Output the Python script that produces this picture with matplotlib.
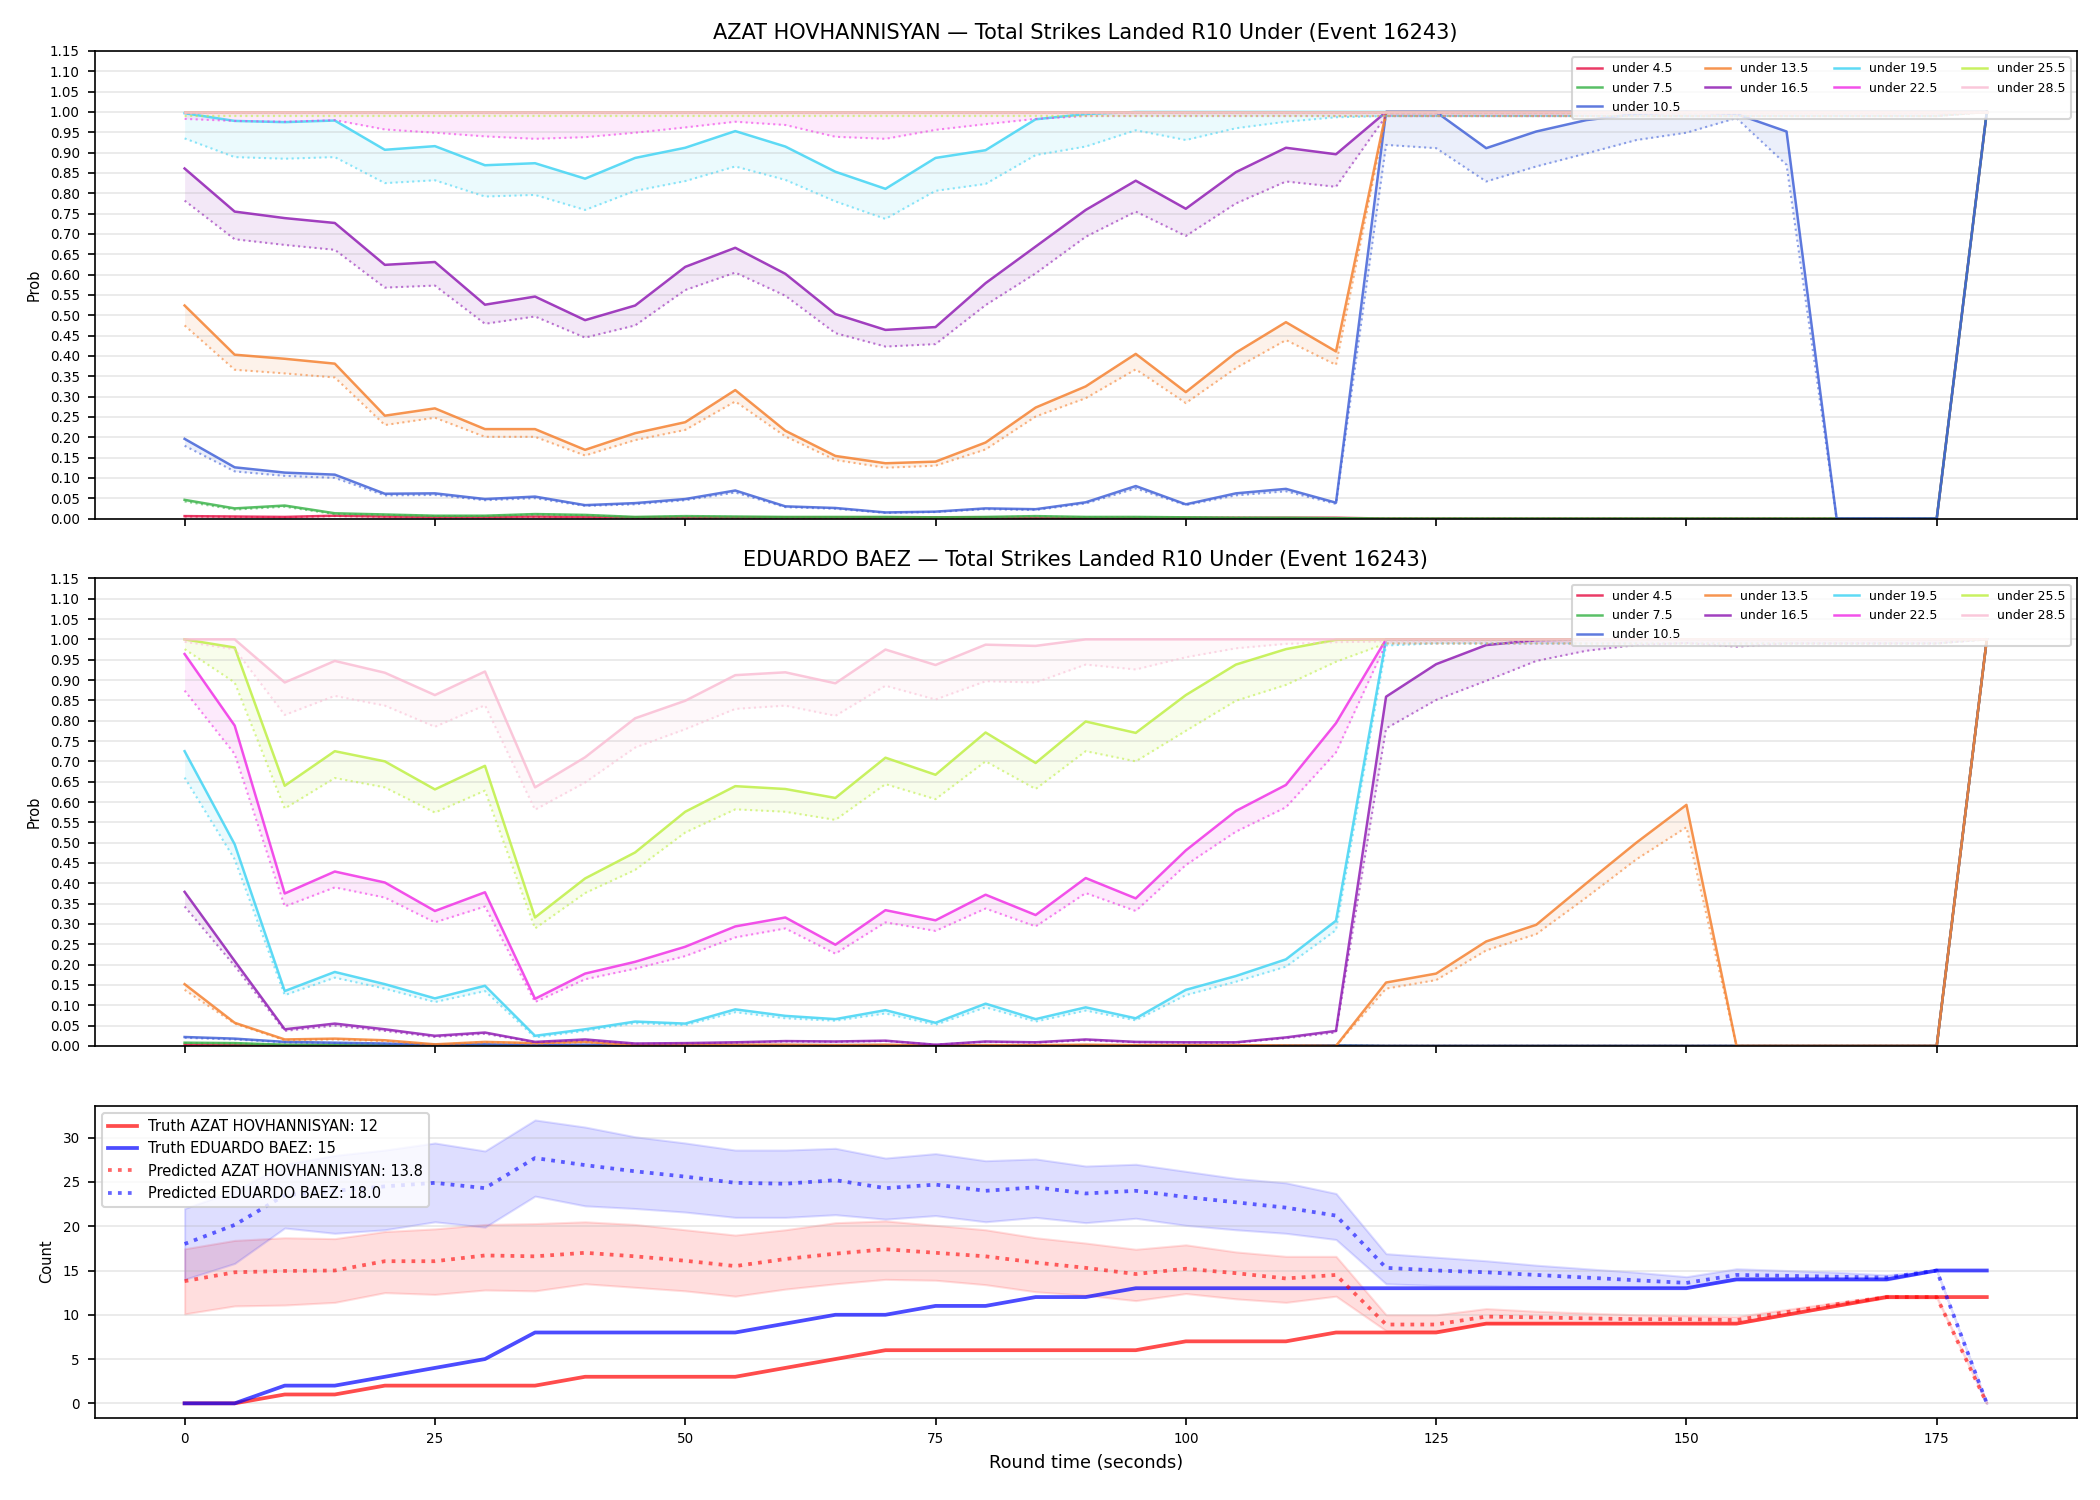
import numpy as np
import matplotlib.pyplot as plt

# round time (seconds), one sample every 5 s
t = list(range(0, 185, 5))

fighters = ["AZAT HOVHANNISYAN", "EDUARDO BAEZ"]
event_id = 16243
thresholds = ["under 4.5", "under 7.5", "under 10.5", "under 13.5", "under 16.5",
              "under 19.5", "under 22.5", "under 25.5", "under 28.5"]
colors = ["#e6194b", "#3cb44b", "#4363d8", "#f58231", "#911eb4",
          "#42d4f4", "#f032e6", "#bfef45", "#fabed4"]

# ---- AZAT HOVHANNISYAN: prob (solid) and lower bound (dotted) ----
a_45 = [0.006, 0.005, 0.004, 0.007, 0.005, 0.004, 0.004, 0.005, 0.004, 0.003, 0.003,
        0.003, 0.003, 0.003, 0.003, 0.003, 0.003, 0.002, 0.002, 0.002, 0.002, 0.002, 0.002, 0.002] + [0.0] * 12 + [1.0]
a_45_lo = [0.005, 0.004, 0.003, 0.006, 0.004, 0.003, 0.003, 0.004, 0.003, 0.002, 0.002,
           0.002, 0.002, 0.002, 0.002, 0.002, 0.002, 0.001, 0.001, 0.001, 0.001, 0.001, 0.001, 0.001] + [0.0] * 12 + [1.0]
a_75 = [0.046, 0.025, 0.032, 0.013, 0.010, 0.007, 0.007, 0.011, 0.009, 0.004, 0.006,
        0.005, 0.004, 0.004, 0.004, 0.003, 0.004, 0.006, 0.004, 0.004, 0.003, 0.002, 0.002, 0.001] + [0.0] * 12 + [1.0]
a_75_lo = [0.042, 0.022, 0.029, 0.011, 0.009, 0.006, 0.006, 0.010, 0.008, 0.003, 0.005,
           0.004, 0.003, 0.003, 0.003, 0.002, 0.003, 0.005, 0.003, 0.003, 0.002, 0.002, 0.001, 0.001] + [0.0] * 12 + [1.0]
a_105 = [0.196, 0.126, 0.113, 0.108, 0.061, 0.062, 0.048, 0.054, 0.033, 0.038, 0.048,
         0.069, 0.030, 0.026, 0.015, 0.017, 0.025, 0.023, 0.040, 0.080, 0.035, 0.062, 0.073, 0.039,
         1.0, 1.0, 0.911, 0.952, 0.980, 0.995, 1.0, 0.995, 0.952, 0.0, 0.0, 0.0, 1.0]
a_105_lo = [0.179, 0.116, 0.105, 0.100, 0.057, 0.058, 0.045, 0.050, 0.031, 0.035, 0.045,
            0.064, 0.028, 0.024, 0.014, 0.016, 0.023, 0.021, 0.037, 0.074, 0.033, 0.057, 0.067, 0.036,
            0.919, 0.911, 0.829, 0.866, 0.898, 0.931, 0.949, 0.985, 0.870, 0.0, 0.0, 0.0, 1.0]
a_135 = [0.524, 0.403, 0.393, 0.381, 0.253, 0.271, 0.220, 0.220, 0.169, 0.210, 0.237,
         0.316, 0.216, 0.154, 0.136, 0.140, 0.187, 0.273, 0.325, 0.405, 0.311, 0.408, 0.483, 0.411] + [1.0] * 13
a_135_lo = [0.475, 0.366, 0.357, 0.347, 0.230, 0.248, 0.201, 0.201, 0.155, 0.193, 0.218,
            0.288, 0.202, 0.144, 0.125, 0.130, 0.170, 0.251, 0.296, 0.367, 0.284, 0.370, 0.439, 0.378] + [0.99] * 12 + [1.0]
a_165 = [0.861, 0.755, 0.739, 0.727, 0.624, 0.631, 0.526, 0.546, 0.488, 0.524, 0.619,
         0.666, 0.602, 0.503, 0.464, 0.471, 0.579, 0.669, 0.759, 0.831, 0.762, 0.852, 0.912, 0.896] + [1.0] * 13
a_165_lo = [0.782, 0.687, 0.673, 0.661, 0.568, 0.573, 0.479, 0.497, 0.445, 0.475, 0.562,
            0.605, 0.548, 0.456, 0.423, 0.429, 0.525, 0.603, 0.693, 0.755, 0.695, 0.775, 0.829, 0.816] + [0.99] * 12 + [1.0]
a_195 = [0.997, 0.978, 0.975, 0.979, 0.907, 0.916, 0.869, 0.874, 0.836, 0.887, 0.912,
         0.953, 0.915, 0.853, 0.811, 0.887, 0.906, 0.982, 0.995, 1.0, 1.0, 1.0, 1.0, 1.0] + [1.0] * 13
a_195_lo = [0.935, 0.889, 0.885, 0.889, 0.825, 0.832, 0.792, 0.796, 0.759, 0.806, 0.830,
            0.866, 0.833, 0.780, 0.737, 0.806, 0.823, 0.894, 0.915, 0.955, 0.931, 0.960, 0.976, 0.987] + [0.99] * 12 + [1.0]
a_225 = [1.0] * 37
a_225_lo = [0.983, 0.978, 0.976, 0.980, 0.957, 0.949, 0.940, 0.934, 0.938, 0.949, 0.962,
            0.976, 0.968, 0.939, 0.934, 0.956, 0.970, 0.983, 0.990, 0.990, 0.990, 0.990, 0.990, 0.990] + [0.99] * 12 + [1.0]
a_255 = [1.0] * 37
a_255_lo = [0.99] * 36 + [1.0]
a_285 = [1.0] * 37
a_285_lo = [0.996] * 36 + [1.0]

# ---- EDUARDO BAEZ ----
e_45 = [0.003, 0.002, 0.002, 0.001, 0.001, 0.001, 0.001, 0.001, 0.001, 0.001, 0.001,
        0.001, 0.001, 0.001, 0.001, 0.001, 0.001, 0.001, 0.001, 0.001, 0.001, 0.001, 0.001, 0.001] + [0.0] * 12 + [1.0]
e_45_lo = [0.002, 0.002, 0.001, 0.001, 0.001, 0.001, 0.001, 0.001, 0.001, 0.001, 0.001,
           0.001, 0.001, 0.001, 0.001, 0.001, 0.001, 0.001, 0.001, 0.001, 0.001, 0.001, 0.001, 0.001] + [0.0] * 12 + [1.0]
e_75 = [0.008, 0.007, 0.003, 0.003, 0.002, 0.001, 0.002, 0.001, 0.001, 0.001, 0.001,
        0.001, 0.001, 0.001, 0.001, 0.001, 0.001, 0.001, 0.001, 0.001, 0.001, 0.001, 0.001, 0.001] + [0.0] * 12 + [1.0]
e_75_lo = [0.007, 0.006, 0.003, 0.002, 0.002, 0.001, 0.001, 0.001, 0.001, 0.001, 0.001,
           0.001, 0.001, 0.001, 0.001, 0.001, 0.001, 0.001, 0.001, 0.001, 0.001, 0.001, 0.001, 0.001] + [0.0] * 12 + [1.0]
e_105 = [0.022, 0.018, 0.010, 0.008, 0.006, 0.003, 0.004, 0.002, 0.003, 0.002, 0.002,
         0.002, 0.002, 0.002, 0.002, 0.001, 0.002, 0.001, 0.002, 0.001, 0.001, 0.001, 0.001, 0.001] + [0.0] * 12 + [1.0]
e_105_lo = [0.020, 0.016, 0.009, 0.007, 0.005, 0.003, 0.003, 0.002, 0.002, 0.002, 0.002,
            0.002, 0.002, 0.002, 0.002, 0.001, 0.002, 0.001, 0.002, 0.001, 0.001, 0.001, 0.001, 0.001] + [0.0] * 12 + [1.0]
e_135 = [0.152, 0.057, 0.016, 0.018, 0.014, 0.004, 0.010, 0.007, 0.010, 0.002, 0.003,
         0.003, 0.003, 0.002, 0.003, 0.001, 0.002, 0.002, 0.003, 0.002, 0.002, 0.002, 0.001, 0.0,
         0.156, 0.178, 0.257, 0.298, 0.400, 0.500, 0.593, 0.0, 0.0, 0.0, 0.0, 0.0, 1.0]
e_135_lo = [0.138, 0.055, 0.014, 0.016, 0.012, 0.003, 0.009, 0.006, 0.009, 0.002, 0.002,
            0.002, 0.002, 0.002, 0.002, 0.001, 0.002, 0.002, 0.002, 0.002, 0.002, 0.002, 0.001, 0.0,
            0.141, 0.162, 0.235, 0.275, 0.365, 0.459, 0.538, 0.0, 0.0, 0.0, 0.0, 0.0, 1.0]
e_165 = [0.379, 0.209, 0.041, 0.055, 0.041, 0.025, 0.033, 0.010, 0.016, 0.006, 0.007,
         0.009, 0.012, 0.011, 0.013, 0.003, 0.011, 0.009, 0.016, 0.010, 0.009, 0.009, 0.021, 0.037,
         0.859, 0.939, 0.986, 0.998, 1.0, 1.0, 1.0, 1.0, 1.0, 1.0, 1.0, 1.0, 1.0]
e_165_lo = [0.343, 0.197, 0.037, 0.050, 0.037, 0.022, 0.030, 0.009, 0.014, 0.005, 0.006,
            0.008, 0.011, 0.010, 0.012, 0.003, 0.010, 0.008, 0.014, 0.009, 0.008, 0.008, 0.019, 0.033,
            0.781, 0.851, 0.898, 0.947, 0.972, 0.986, 0.991, 0.982, 0.990, 0.990, 0.990, 0.990, 1.0]
e_195 = [0.725, 0.496, 0.135, 0.182, 0.152, 0.117, 0.148, 0.025, 0.041, 0.060, 0.055,
         0.090, 0.074, 0.066, 0.088, 0.057, 0.104, 0.066, 0.095, 0.068, 0.138, 0.172, 0.213, 0.308] + [1.0] * 13
e_195_lo = [0.660, 0.459, 0.125, 0.168, 0.141, 0.108, 0.135, 0.021, 0.037, 0.056, 0.051,
            0.083, 0.068, 0.062, 0.080, 0.052, 0.095, 0.060, 0.087, 0.063, 0.125, 0.158, 0.195, 0.285] + [0.985] + [0.99] * 11 + [1.0]
e_225 = [0.964, 0.788, 0.375, 0.429, 0.402, 0.332, 0.378, 0.116, 0.178, 0.207, 0.244,
         0.294, 0.316, 0.249, 0.334, 0.309, 0.372, 0.322, 0.413, 0.363, 0.481, 0.578, 0.642, 0.794] + [1.0] * 13
e_225_lo = [0.874, 0.718, 0.343, 0.390, 0.365, 0.304, 0.343, 0.108, 0.164, 0.190, 0.221,
            0.267, 0.289, 0.227, 0.304, 0.283, 0.338, 0.294, 0.376, 0.332, 0.445, 0.527, 0.587, 0.722] + [0.99] * 12 + [1.0]
e_255 = [1.0, 0.980, 0.640, 0.725, 0.700, 0.631, 0.689, 0.316, 0.412, 0.476, 0.576,
         0.639, 0.632, 0.610, 0.709, 0.667, 0.771, 0.696, 0.798, 0.770, 0.863, 0.938, 0.976, 0.999] + [1.0] * 13
e_255_lo = [0.976, 0.894, 0.584, 0.659, 0.636, 0.574, 0.628, 0.289, 0.376, 0.433, 0.525,
            0.582, 0.576, 0.556, 0.644, 0.607, 0.700, 0.632, 0.725, 0.700, 0.775, 0.849, 0.888, 0.945] + [0.99] * 12 + [1.0]
e_285 = [1.0, 1.0, 0.894, 0.947, 0.918, 0.863, 0.921, 0.636, 0.710, 0.806, 0.849,
         0.912, 0.919, 0.892, 0.975, 0.937, 0.987, 0.984, 1.0, 1.0, 1.0, 1.0, 1.0, 1.0] + [1.0] * 13
e_285_lo = [0.994, 0.976, 0.814, 0.861, 0.837, 0.785, 0.838, 0.581, 0.648, 0.734, 0.779,
            0.829, 0.837, 0.812, 0.886, 0.852, 0.897, 0.894, 0.938, 0.926, 0.956, 0.978, 0.989, 0.993] + [0.995] * 12 + [1.0]

# ---- counts ----
truth_azat = [0, 0, 1, 1, 2, 2, 2, 2, 3, 3, 3, 3, 4, 5, 6, 6, 6, 6, 6, 6, 7, 7, 7, 8, 8, 8,
              9, 9, 9, 9, 9, 9, 10, 11, 12, 12, 12]
truth_baez = [0, 0, 2, 2, 3, 4, 5, 8, 8, 8, 8, 8, 9, 10, 10, 11, 11, 12, 12, 13, 13, 13, 13, 13,
              13, 13, 13, 13, 13, 13, 13, 14, 14, 14, 14, 15, 15]
pred_azat = [13.8, 14.8, 14.95, 15.0, 16.05, 16.05, 16.7, 16.6, 17.0, 16.6, 16.1, 15.5, 16.3,
             16.9, 17.4, 17.0, 16.6, 15.9, 15.3, 14.6, 15.2, 14.7, 14.1, 14.5, 8.9, 8.9, 9.8,
             9.7, 9.6, 9.5, 9.5, 9.4, 10.3, 11.2, 12.0, 12.0, 0.0]
pred_azat_hi = [17.45, 18.4, 18.7, 18.6, 19.4, 19.7, 20.2, 20.3, 20.5, 20.2, 19.6, 19.0, 19.6,
                20.4, 20.6, 20.1, 19.6, 18.7, 18.1, 17.4, 17.9, 17.1, 16.6, 16.6, 10.0, 10.0, 10.7,
                10.4, 10.2, 10.0, 9.9, 9.8, 10.6, 11.4, 12.2, 12.1, 0.0]
pred_azat_lo = [10.1, 11.0, 11.1, 11.4, 12.5, 12.3, 12.8, 12.7, 13.5, 13.1, 12.7, 12.1, 12.9,
                13.5, 14.0, 13.9, 13.4, 12.6, 12.2, 11.6, 12.4, 11.8, 11.4, 12.1, 8.2, 8.2, 9.0,
                9.0, 9.0, 9.0, 9.0, 9.0, 10.0, 11.0, 11.9, 11.9, 0.0]
pred_baez = [18.0, 20.15, 23.5, 24.0, 24.5, 24.9, 24.3, 27.7, 26.9, 26.2, 25.6, 24.9, 24.8,
             25.2, 24.3, 24.7, 24.0, 24.4, 23.7, 24.0, 23.3, 22.7, 22.1, 21.2, 15.3, 15.0, 14.8,
             14.5, 14.2, 13.9, 13.6, 14.5, 14.4, 14.3, 14.2, 15.0, 0.0]
pred_baez_hi = [22.0, 24.0, 27.0, 28.0, 28.6, 29.4, 28.5, 32.0, 31.2, 30.1, 29.4, 28.6, 28.6,
                28.8, 27.7, 28.2, 27.4, 27.6, 26.8, 27.0, 26.2, 25.4, 24.9, 23.7, 16.9, 16.5, 16.1,
                15.6, 15.2, 14.8, 14.3, 15.2, 15.0, 14.8, 14.5, 15.0, 0.0]
pred_baez_lo = [14.0, 15.8, 19.8, 19.2, 19.6, 20.5, 19.9, 23.4, 22.3, 22.0, 21.6, 21.0, 21.0,
                21.3, 20.8, 21.2, 20.5, 21.0, 20.4, 20.9, 20.1, 19.6, 19.2, 18.5, 13.5, 13.3, 13.3,
                13.2, 13.2, 13.1, 13.1, 13.9, 13.9, 13.9, 13.9, 15.0, 0.0]

azat_probs = [(a_45, a_45_lo), (a_75, a_75_lo), (a_105, a_105_lo), (a_135, a_135_lo), (a_165, a_165_lo),
              (a_195, a_195_lo), (a_225, a_225_lo), (a_255, a_255_lo), (a_285, a_285_lo)]
baez_probs = [(e_45, e_45_lo), (e_75, e_75_lo), (e_105, e_105_lo), (e_135, e_135_lo), (e_165, e_165_lo),
              (e_195, e_195_lo), (e_225, e_225_lo), (e_255, e_255_lo), (e_285, e_285_lo)]

fig, axes = plt.subplots(3, 1, figsize=(14, 10), dpi=150, sharex=True,
                         gridspec_kw={"height_ratios": [3, 3, 2]})
fig.subplots_adjust(left=0.045, right=0.989, top=0.966, bottom=0.055, hspace=0.144)

for ax, name, probs in zip(axes[:2], fighters, [azat_probs, baez_probs]):
    for label, c, (p, lo) in zip(thresholds, colors, probs):
        ax.plot(t, p, color=c, lw=1.2, alpha=0.85, label=label)
        ax.plot(t, lo, color=c, lw=1.0, ls=":", alpha=0.6)
        ax.fill_between(t, lo, p, color=c, alpha=0.1, lw=0)
    ax.set_ylim(0, 1.15)
    ax.set_yticks(np.arange(0, 1.151, 0.05))
    ax.set_ylabel("Prob", fontsize=7)
    ax.set_title(f"{name} \u2014 Total Strikes Landed R10 Under (Event {event_id})", fontsize=10)
    ax.grid(axis="y", alpha=0.3)
    ax.tick_params(labelsize=6.5)
    ax.legend(loc="upper right", ncol=4, fontsize=6)

ax = axes[2]
ax.plot(t, truth_azat, color="red", lw=1.8, alpha=0.7, label=f"Truth {fighters[0]}: {truth_azat[-1]}")
ax.plot(t, truth_baez, color="blue", lw=1.8, alpha=0.7, label=f"Truth {fighters[1]}: {truth_baez[-1]}")
ax.plot(t, pred_azat, color="red", lw=1.8, ls=":", alpha=0.6, label=f"Predicted {fighters[0]}: {pred_azat[0]:.1f}")
ax.plot(t, pred_baez, color="blue", lw=1.8, ls=":", alpha=0.6, label=f"Predicted {fighters[1]}: {pred_baez[0]:.1f}")
ax.fill_between(t, pred_azat_lo, pred_azat_hi, color="red", alpha=0.13)
ax.fill_between(t, pred_baez_lo, pred_baez_hi, color="blue", alpha=0.13)
ax.set_ylabel("Count", fontsize=7)
ax.set_xlabel("Round time (seconds)", fontsize=8.5)
ax.grid(axis="y", alpha=0.3)
ax.tick_params(labelsize=6.5)
ax.legend(loc="upper left", fontsize=7)

fig.savefig("out.png", dpi=150)
